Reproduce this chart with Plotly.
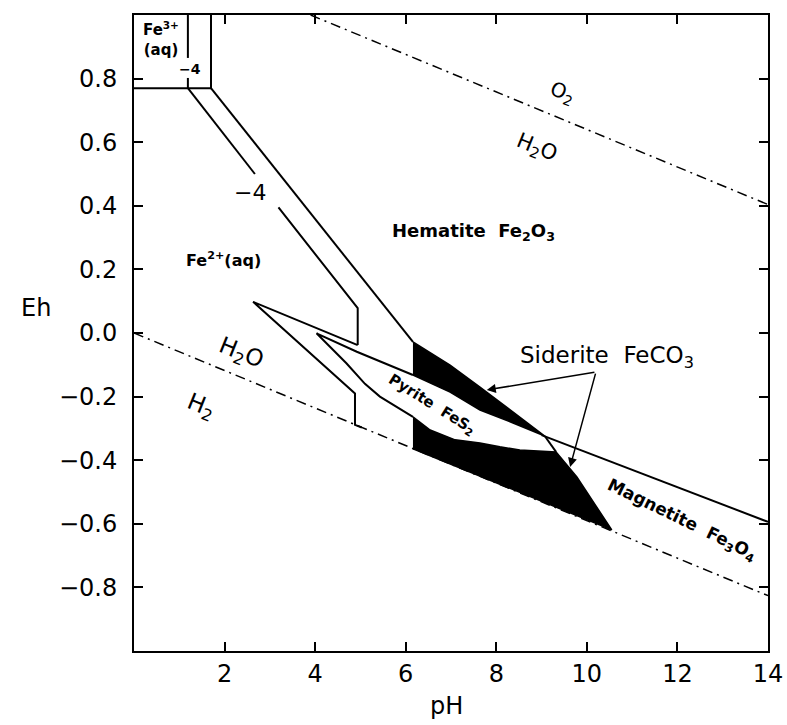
import plotly.graph_objects as go

# ---------------- data (pH, Eh in volts) ----------------
# water stability limits
o2_ph = [3.9, 14.0]
o2_eh = [1.0, 0.404]
h2_ph = [0.0, 14.0]
h2_eh = [0.0, -0.826]

# Fe3+ / Fe2+ boundary
fe3_fe2_ph = [0.0, 1.70]
fe3_fe2_eh = [0.77, 0.77]
# Fe3+ / hematite boundary
fe3_hem_ph = [1.70, 1.70]
fe3_hem_eh = [1.00, 0.77]
# Fe3+ / hematite boundary, activity 10^-4 (broken by label)
fe3_hem4_ph = [1.19, 1.19, None, 1.19, 1.19]
fe3_hem4_eh = [1.00, 0.865, None, 0.802, 0.77]
# Fe2+ / hematite boundary
fe2_hem_ph = [1.70, 6.16]
fe2_hem_eh = [0.77, -0.028]
# Fe2+ / hematite boundary, activity 10^-4 (broken by label)
fe2_hem4_ph = [1.19, 2.67, None, 3.19, 4.94, 4.94]
fe2_hem4_eh = [0.77, 0.50, None, 0.395, 0.078, -0.038]
# outer pyrite wedge
pyr_outer_ph = [4.94, 2.63, 4.88, 4.88, 5.03]
pyr_outer_eh = [-0.038, 0.098, -0.190, -0.289, -0.297]
# inner pyrite wedge
pyr_inner_ph = [6.16, 4.92, 4.03, 4.69, 5.10, 5.43, 6.16]
pyr_inner_eh = [-0.132, -0.059, -0.001, -0.095, -0.160, -0.200, -0.264]
# siderite field, upper band
sid_up_ph = [6.16, 6.98, 7.64, 8.37, 9.07, 8.37, 7.64, 6.98, 6.16]
sid_up_eh = [-0.028, -0.101, -0.170, -0.248, -0.324, -0.283, -0.242, -0.186, -0.132]
# siderite field, lower band
sid_lo_ph = [6.16, 6.54, 7.09, 7.64, 8.08, 8.52, 9.32, 9.78, 10.55, 6.16]
sid_lo_eh = [-0.264, -0.305, -0.336, -0.346, -0.358, -0.368, -0.374, -0.453, -0.619, -0.364]
# siderite edge joining the two bands
sid_edge_ph = [9.07, 9.32]
sid_edge_eh = [-0.324, -0.374]
# hematite / magnetite boundary
mag_ph = [9.0, 14.0]
mag_eh = [-0.321, -0.594]

# field labels
label_text = ["Fe<sup>3+</sup><br>(aq)", "−4", "−4", "Fe<sup>2+</sup>(aq)",
              "Hematite  Fe<sub>2</sub>O<sub>3</sub>", "O<sub>2</sub>", "H<sub>2</sub>O",
              "H<sub>2</sub>O", "H<sub>2</sub>", "Pyrite  FeS<sub>2</sub>",
              "Magnetite  Fe<sub>3</sub>O<sub>4</sub>", "Siderite  FeCO<sub>3</sub>"]
label_ph = [0.60, 1.24, 2.56, 1.97, 7.49, 9.47, 8.90, 2.36, 1.48, 6.58, 12.10, 10.44]
label_eh = [0.925, 0.83, 0.443, 0.23, 0.318, 0.755, 0.582, -0.066, -0.233, -0.226, -0.59, -0.075]
label_size = [15, 14, 22, 16, 18, 20, 21, 23, 23, 15, 17, 23]
label_angle = [0, 0, 0, 0, 0, 22, 22, 22, 22, 32, 26, 0]
label_bold = [True, True, False, True, True, False, False, False, False, True, True, False]

# siderite arrows: tail (apex) and heads
arrow_tail_ph = 10.2
arrow_tail_eh = -0.123
arrow_head_ph = [7.79, 9.63]
arrow_head_eh = [-0.179, -0.421]

# ticks
x_ticks = [2, 4, 6, 8, 10, 12, 14]
y_ticks = [-0.8, -0.6, -0.4, -0.2, 0.0, 0.2, 0.4, 0.6, 0.8]
y_ticktext = ["−0.8", "−0.6", "−0.4", "−0.2", "0.0", "0.2", "0.4", "0.6", "0.8"]

# ---------------- figure ----------------
W, H = 787, 725
ML, MR, MT, MB = 134, 19, 15, 74
plot_w = W - ML - MR
plot_h = H - MT - MB

fig = go.Figure()

def line(xs, ys, width=2, dash="solid"):
    fig.add_trace(go.Scatter(x=xs, y=ys, mode="lines",
                             line=dict(color="black", width=width, dash=dash),
                             hoverinfo="skip", showlegend=False))

def fill(xs, ys):
    fig.add_trace(go.Scatter(x=xs, y=ys, mode="lines", fill="toself",
                             fillcolor="black", line=dict(color="black", width=1.5),
                             hoverinfo="skip", showlegend=False))

dashdot = "10px,5px,2px,5px"
line(o2_ph, o2_eh, 1.5, dashdot)
line(h2_ph, h2_eh, 1.5, dashdot)
line(fe3_fe2_ph, fe3_fe2_eh)
line(fe3_hem_ph, fe3_hem_eh)
line(fe3_hem4_ph, fe3_hem4_eh)
line(fe2_hem_ph, fe2_hem_eh)
line(fe2_hem4_ph, fe2_hem4_eh)
line(pyr_outer_ph, pyr_outer_eh)
line(pyr_inner_ph, pyr_inner_eh)
fill(sid_up_ph, sid_up_eh)
fill(sid_lo_ph, sid_lo_eh)
line(sid_edge_ph, sid_edge_eh)
line(mag_ph, mag_eh)

font_family = "DejaVu Sans"
for t, px, py, s, a, b in zip(label_text, label_ph, label_eh, label_size, label_angle, label_bold):
    txt = f"<b>{t}</b>" if b else t
    fig.add_annotation(x=px, y=py, xref="x", yref="y", text=txt, showarrow=False,
                       textangle=a, font=dict(family=font_family, size=s, color="black"),
                       xanchor="center", yanchor="middle")

for hx, hy in zip(arrow_head_ph, arrow_head_eh):
    fig.add_annotation(x=hx, y=hy, ax=arrow_tail_ph, ay=arrow_tail_eh,
                       xref="x", yref="y", axref="x", ayref="y", text="",
                       showarrow=True, arrowhead=2, arrowsize=1.2, arrowwidth=1.5,
                       arrowcolor="black", standoff=0, startstandoff=0)

# axis titles (positioned in pixel terms via paper coordinates)
fig.add_annotation(x=(36 - ML) / plot_w, y=(H - MB - 308) / plot_h,
                   xref="paper", yref="paper", text="Eh", showarrow=False,
                   font=dict(family=font_family, size=24, color="black"),
                   xanchor="center", yanchor="middle")
fig.add_annotation(x=(446 - ML) / plot_w, y=(H - MB - 706) / plot_h,
                   xref="paper", yref="paper", text="pH", showarrow=False,
                   font=dict(family=font_family, size=24, color="black"),
                   xanchor="center", yanchor="middle")

axis_common = dict(showline=True, linecolor="black", linewidth=2, mirror="ticks",
                   ticks="inside", ticklen=9, tickwidth=1.5, tickcolor="black",
                   showgrid=False, zeroline=False, automargin=False,
                   tickfont=dict(family=font_family, size=24, color="black"))

fig.update_layout(
    width=W, height=H,
    margin=dict(l=ML, r=MR, t=MT, b=MB),
    paper_bgcolor="white", plot_bgcolor="white",
    xaxis=dict(range=[0, 14], tickvals=x_ticks, ticklabelstandoff=0, **axis_common),
    yaxis=dict(range=[-1.0, 1.0], tickvals=y_ticks, ticktext=y_ticktext,
               ticklabelstandoff=10, **axis_common),
)

fig.write_html("out.html", config={"displayModeBar": False},
               post_script="document.body.style.margin='0';document.body.style.overflow='hidden';")
